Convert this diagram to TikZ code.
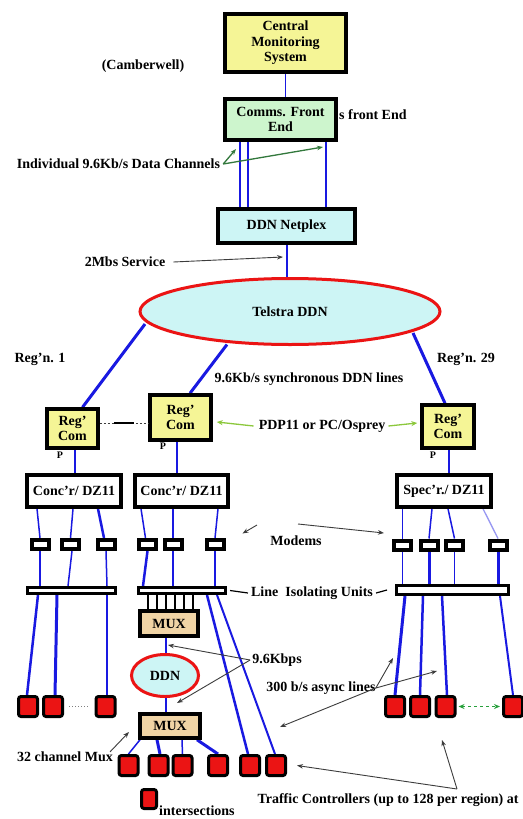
\documentclass[tikz,border=0pt]{standalone}
\usepackage{fontspec}
\setmainfont{Liberation Serif}
\usetikzlibrary{shapes.geometric,arrows.meta}
\definecolor{cyel}{RGB}{245,245,150}
\definecolor{cgrn}{RGB}{205,245,205}
\definecolor{ccyan}{RGB}{205,245,245}
\definecolor{ctan}{RGB}{240,212,165}
\definecolor{cblue}{RGB}{25,25,225}
\definecolor{cred}{RGB}{235,20,20}
\definecolor{cdkgreen}{RGB}{50,120,60}
\definecolor{cltgreen}{RGB}{140,200,60}
\definecolor{cgray}{RGB}{60,60,60}
\definecolor{cdash}{RGB}{40,160,60}
\pgfdeclarelayer{bg}
\pgfsetlayers{bg,main}
\begin{document}
\begin{tikzpicture}[x=1pt,y=-1pt,
 txt/.style={font=\fontsize{14}{15.5}\selectfont\bfseries},
 lbl/.style={txt, inner sep=0pt},
 box/.style={draw=black, line width=3.5pt, inner sep=0pt, align=center, txt},
 oval/.style={ellipse, draw=cred, line width=3pt, fill=ccyan, inner sep=0pt, txt},
 modem/.style={draw=black, line width=4pt, fill=white, inner sep=0pt, minimum width=17pt, minimum height=9pt},
 liubar/.style={draw=black, line width=3pt, fill=white, inner sep=0pt, minimum height=6pt},
 ctrl/.style={draw=black, line width=3pt, fill=cred, rounded corners=2.5pt, inner sep=0pt, minimum width=19pt, minimum height=20pt},
 thinb/.style={draw=cblue, line width=1.5pt},
 thickb/.style={draw=cblue, line width=3pt},
 garrow/.style={draw=cdkgreen, line width=1.3pt, -{Stealth[length=6pt,width=4.5pt]}},
 larrow/.style={draw=cltgreen, line width=1.3pt, -{Stealth[length=6pt,width=5pt]}},
 karrow/.style={draw=cgray, line width=0.9pt, -{Stealth[length=6pt,width=4.5pt]}},
 smallp/.style={font=\fontsize{10}{10}\selectfont\bfseries, inner sep=0pt}
]
\useasboundingbox (0,0) rectangle (522,819);

% main boxes
\node[box, fill=cyel, minimum width=121pt, minimum height=58pt] (cms) at (285.5,43) {Central\\Monitoring\\System};
\node[box, fill=cgrn, minimum width=111pt, minimum height=41pt] (cfe) at (280.5,119.5) {Comms. Front\\End};
\node[box, fill=ccyan, minimum width=137pt, minimum height=34pt] (ddnp) at (286.5,226) {DDN Netplex};
\node[oval, minimum width=300pt, minimum height=66pt] (tdn) at (290,311.5) {Telstra DDN};

\node[box, fill=cyel, minimum width=51pt, minimum height=39pt] (rc1) at (72.5,428.5) {Reg'\\Com};
\node[box, fill=cyel, minimum width=61pt, minimum height=45pt] (rc2) at (180.5,417.5) {Reg'\\Com};
\node[box, fill=cyel, minimum width=52pt, minimum height=43pt] (rc3) at (448,426.5) {Reg'\\Com};
\node[smallp] (p1) at (60,455) {P};
\node[smallp] (p2) at (163,446) {P};
\node[smallp] (p3) at (433,455) {P};

\node[box, fill=white, minimum width=94pt, minimum height=32pt] (cc1) at (74,491) {Conc'r/ DZ11};
\node[box, fill=white, minimum width=93pt, minimum height=32pt] (cc2) at (181.5,491) {Conc'r/ DZ11};
\node[box, fill=white, minimum width=94pt, minimum height=32pt] (sp) at (444,491) {Spec'r./ DZ11};

% modems
\node[modem] (m1) at (40,544.5) {};
\node[modem] (m2) at (70.5,544.5) {};
\node[modem] (m3) at (106,544.5) {};
\node[modem] (m4) at (147.5,544.5) {};
\node[modem] (m5) at (173,544.5) {};
\node[modem] (m6) at (215,544.5) {};
\node[modem] (mr1) at (402.5,545) {};
\node[modem] (mr2) at (429,545) {};
\node[modem] (mr3) at (454.5,545) {};
\node[modem] (mr4) at (498,545) {};

% line isolating units
\node[liubar, minimum width=88pt] (liu1) at (71.5,590.5) {};
\node[liubar, minimum width=87pt] (liu2) at (182,590.5) {};
\node[liubar, minimum width=112pt, minimum height=9pt] (liu3) at (452.5,590) {};

% mux chain
\node[box, fill=ctan, minimum width=58pt, minimum height=25pt] (mux1) at (169,623.5) {MUX};
\node[oval, minimum width=67pt, minimum height=42pt] (ddn2) at (165,675.5) {DDN};
\node[box, fill=ctan, minimum width=60pt, minimum height=24pt] (mux2) at (170,726) {MUX};

% controllers
\node[ctrl] (cl1) at (28,706.5) {};
\node[ctrl] (cl2) at (53,706.5) {};
\node[ctrl] (cl3) at (105.5,706.5) {};
\node[ctrl] (cm1) at (128.5,765.5) {};
\node[ctrl] (cm2) at (158.5,765.5) {};
\node[ctrl] (cm3) at (182.5,765.5) {};
\node[ctrl] (cm4) at (218,765.5) {};
\node[ctrl] (cm5) at (250,765.5) {};
\node[ctrl] (cm6) at (276,765.5) {};
\node[ctrl] (cr1) at (395,706.5) {};
\node[ctrl] (cr2) at (420,706.5) {};
\node[ctrl] (cr3) at (445.5,706.5) {};
\node[ctrl] (cr4) at (513,706.5) {};
\node[ctrl, minimum width=15pt, minimum height=19pt] (leg) at (149,799) {};

% connectors (behind nodes)
\begin{pgfonlayer}{bg}
\fill[white] (0,0) rectangle (522,819);
\draw[thinb] (cms.south) -- (cms.south |- cfe.north);
\draw[thinb] ([xshift=-40.5pt]cfe.south) -- ([xshift=-40.5pt]cfe.south |- ddnp.north);
\draw[thinb] ([xshift=-32.5pt]cfe.south) -- ([xshift=-32.5pt]cfe.south |- ddnp.north);
\draw[thinb] ([xshift=45.5pt]cfe.south) -- ([xshift=45.5pt]cfe.south |- ddnp.north);
\draw[draw=cblue, line width=2pt] (ddnp.south) -- (ddnp.south |- tdn.north);

\draw[thickb] ([shift={(-145,12.5)}]tdn.center) -- ([xshift=10pt]rc1.north);
\draw[thickb] ([shift={(-63,33)}]tdn.center) -- ([xshift=9.5pt]rc2.north);
\draw[thickb] ([shift={(123,21.5)}]tdn.center) -- ([xshift=-3pt]rc3.north);

\draw[thinb] ([xshift=2.5pt]rc1.south) -- ([xshift=2.5pt]rc1.south |- cc1.north);
\draw[thinb] ([xshift=-3.5pt]rc2.south) -- ([xshift=-3.5pt]rc2.south |- cc2.north);
\draw[thinb] ([xshift=1pt]rc3.south) -- ([xshift=1pt]rc3.south |- sp.north);

\draw[thinb] ([xshift=-3pt]m1.north |- cc1.south) -- (m1.north);
\draw[thinb] ([xshift=2.5pt]m2.north |- cc1.south) -- (m2.north);
\draw[draw=cblue, line width=2.5pt] ([xshift=-8pt]m3.north |- cc1.south) -- ([xshift=-2pt]m3.north);
\draw[thinb] ([xshift=-6.5pt]m4.north |- cc2.south) -- ([xshift=-2pt]m4.north);
\draw[draw=cblue, line width=2.5pt] (m5.north |- cc2.south) -- (m5.north);
\draw[thinb] ([xshift=3pt]m6.north |- cc2.south) -- (m6.north);
\draw[thinb] (mr1.north |- sp.south) -- (mr1.north);
\draw[thinb] ([xshift=3pt]mr2.north |- sp.south) -- (mr2.north);
\draw[thinb] ([xshift=-6.5pt]mr3.north |- sp.south) -- (mr3.north);
\draw[draw=cblue!45, line width=1.3pt] ([xshift=-15pt]mr4.north |- sp.south) -- (mr4.north);

\draw[thinb] (m1.south) -- (m1.south |- liu1.north);
\draw[thinb] ([xshift=1.5pt]m2.south) -- ([xshift=-2.5pt]m2.south |- liu1.north);
\draw[thinb] (m3.south) -- ([xshift=1pt]m3.south |- liu1.north);
\draw[draw=cblue, line width=2.5pt] (m4.south) -- ([xshift=-4.5pt]m4.south |- liu2.north);
\draw[thinb] (m5.south) -- (m5.south |- liu2.north);
\draw[thinb] (m6.south) -- (m6.south |- liu2.north);
\draw[thinb] (mr1.south) -- (mr1.south |- liu3.north);
\draw[thickb] (mr2.south) -- (mr2.south |- liu3.north);
\draw[thinb] (mr3.south) -- (mr3.south |- liu3.north);
\draw[thickb] (mr4.south) -- (mr4.south |- liu3.north);

\draw[draw=cblue, line width=2.5pt] ([xshift=10pt]cl1.north |- liu1.south) -- ([xshift=-1pt]cl1.north);
\draw[thickb] ([xshift=4pt]cl2.north |- liu1.south) -- ([xshift=2pt]cl2.north);
\draw[thinb] ([xshift=1.5pt]cl3.north |- liu1.south) -- ([xshift=1.5pt]cl3.north);
\draw[draw=cblue, line width=2.5pt] ([xshift=-43pt]cm5.north |- liu2.south) -- ([xshift=-2pt]cm5.north);
\draw[draw=cblue, line width=2pt] ([xshift=-59pt]cm6.north |- liu2.south) -- ([xshift=-1pt]cm6.north);
\draw[thickb] ([xshift=10pt]cr1.north |- liu3.south) -- (cr1.north);
\draw[draw=cblue, line width=2.5pt] ([xshift=3pt]cr2.north |- liu3.south) -- (cr2.north);
\draw[draw=cblue, line width=2.5pt] ([xshift=-3.5pt]cr3.north |- liu3.south) -- ([xshift=1.5pt]cr3.north);
\draw[draw=cblue, line width=2pt] ([xshift=-13pt]cr4.north |- liu3.south) -- (cr4.north);

\foreach \dx in {-21,-12,-3,6,15,24}
  \draw[black, line width=2pt] ([xshift=\dx pt]mux1.north |- liu2.south) -- ([xshift=\dx pt]mux1.north);

\draw[draw=cblue, line width=1.3pt] ([xshift=-3pt]mux1.south) -- ([xshift=-3pt]mux1.south |- ddn2.north);
\draw[draw=cblue, line width=1.3pt] ([xshift=1pt]ddn2.south) -- ([xshift=1pt]ddn2.south |- mux2.north);

\draw[thinb] ([xshift=-30pt]mux2.south) -- (cm1.north);
\draw[draw=cblue, line width=3pt] ([xshift=-13pt]mux2.south) -- ([xshift=1.5pt]cm2.north);
\draw[thinb] ([xshift=12pt]mux2.south) -- (cm3.north);
\draw[draw=cblue, line width=3pt] ([xshift=27pt]mux2.south) -- (cm4.north);
\end{pgfonlayer}

% dashed link between regional computers
\draw[draw=cgray, line width=1pt, dash pattern=on 2pt off 2pt] ([yshift=5.5pt]rc1.east) -- ([yshift=5.5pt]rc1.east -| rc2.west);
\draw[black, line width=2.5pt] ([yshift=5.5pt, xshift=14pt]rc1.east) -- ([yshift=5.5pt, xshift=34pt]rc1.east);

% gray dotted between left controllers
\draw[draw=gray, line width=1pt, dotted] ([xshift=5pt]cl2.east) -- ([xshift=-5pt]cl3.west);
% green dashed double arrow
\draw[draw=cdash, line width=1.8pt, dashed, {Stealth[length=6pt,width=5pt]}-{Stealth[length=6pt,width=5pt]}] ([xshift=2pt]cr3.east) -- ([xshift=-2pt]cr4.west);

% labels
\node[lbl] (camb) at (143,66) {(Camberwell)};
\node[lbl, anchor=west] (sfe) at (339,115) {s front End};
\node[lbl] (idc) at (118.5,164) {Individual 9.6Kb/s Data Channels};
\coordinate (idcA) at (236,149);
\coordinate (idcB) at (323,147);
\draw[garrow] ([xshift=3pt]idc.east) -- (idcA);
\draw[garrow] ([xshift=3pt]idc.east) -- (idcB);

\node[lbl] (mbs) at (125,262) {2Mbs Service};
\coordinate (mbsT) at (283,257);
\draw[karrow] ([xshift=8pt]mbs.east) -- (mbsT);

\node[lbl] (rg1) at (40,359) {Reg'n. 1};
\node[lbl] (rg29) at (466,359) {Reg'n. 29};
\node[lbl] (sync) at (309,379) {9.6Kb/s synchronous DDN lines};

\node[lbl] (pdp) at (322,426) {PDP11 or PC/Osprey};
\draw[larrow] ([xshift=-5pt]pdp.west) -- ([xshift=4pt, yshift=-4.5pt]rc2.east);
\draw[larrow] ([xshift=3pt]pdp.east) -- ([xshift=-3pt, yshift=3.5pt]rc3.west);

\node[lbl] (mdm) at (296,541) {Modems};
\coordinate (mdmA) at (257,525);
\coordinate (mdmB) at (298,524);
\draw[karrow] (mdmA) -- ([xshift=17pt, yshift=11pt]m6.east);
\draw[karrow] (mdmB) -- ([xshift=-8pt, yshift=12pt]mr1.west);

\node[lbl] (liut) at (312,593) {Line\ \ Isolating Units};
\draw[black, line width=1.2pt] ([xshift=-3pt]liut.west) -- ([xshift=3pt]liu2.east);
\draw[black, line width=1.2pt] ([xshift=3pt]liut.east) -- ([xshift=-8pt]liu3.west);

\node[lbl] (k96) at (277,660) {9.6Kbps};
\coordinate (k96A) at (168,645);
\coordinate (k96B) at (177,703);
\draw[karrow] ([xshift=-2pt]k96.west) -- (k96A);
\draw[karrow] ([xshift=-2pt]k96.west) -- (k96B);

\node[lbl] (async) at (321,688) {300 b/s async lines};
\coordinate (asA) at (393,658);
\coordinate (asB) at (437,671);
\coordinate (asC) at (280,727);
\draw[karrow] (async.east) -- (asA);
\draw[karrow] (async.east) -- (asB);
\draw[karrow] (async.east) -- (asC);

\node[lbl] (c32) at (65,757) {32 channel Mux};
\coordinate (c32T) at (129,732);
\draw[karrow] ([xshift=-3pt]c32.north east) -- (c32T);

\node[lbl] (tc) at (388,800) {Traffic Controllers (up to 128 per region) at};
\coordinate (tcS) at (457,789);
\coordinate (tcB) at (442,740);
\draw[karrow] (tcS) -- ([xshift=10pt]cm6.east);
\draw[karrow] (tcS) -- (tcB);

\node[lbl, anchor=west] (inter) at (159,811) {intersections};
\end{tikzpicture}
\end{document}
